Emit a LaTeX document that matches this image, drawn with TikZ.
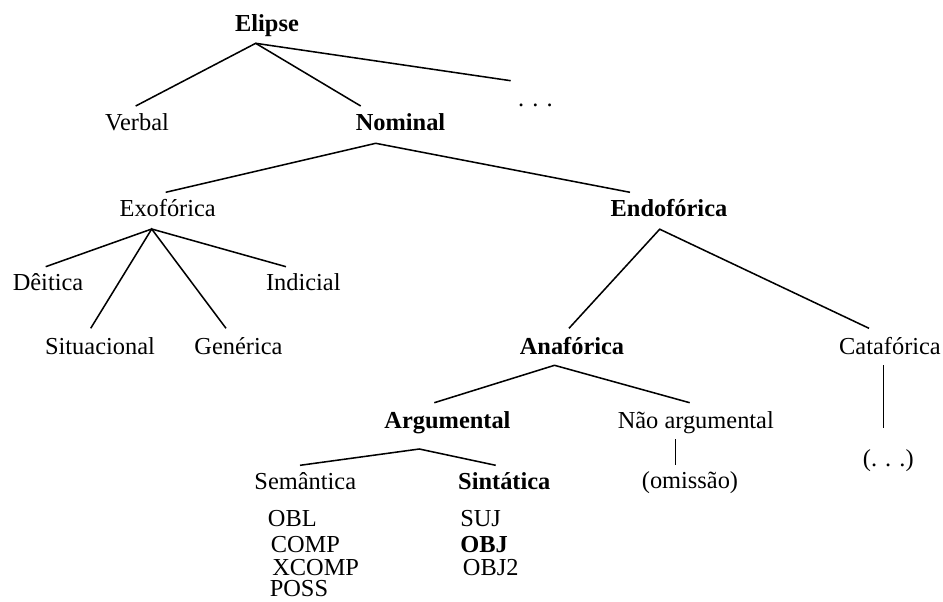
\documentclass[tikz,border=0pt]{standalone}
\usepackage{fontspec}
\setmainfont{Liberation Serif}
\begin{document}
\begin{tikzpicture}[x=0.75pt,y=-0.75pt,
  lbl/.style={inner sep=0pt, anchor=base, font=\fontsize{18.3pt}{22pt}\selectfont},
  hd/.style={lbl, font=\fontsize{18.3pt}{22pt}\selectfont\bfseries},
  lst/.style={lbl, anchor=base west, text height=12.5pt, text depth=0pt},
  branch/.style={line width=1.15pt, line cap=butt}]
\useasboundingbox (0,0) rectangle (943,601);

% category labels
\node[hd]  (elipse)   at (267,31.7)    {Elipse};
\node[lbl] (verbal)   at (137,130)     {Verbal};
\node[hd]  (nominal)  at (400.5,130)   {Nominal};
\node[lbl] (etc)      at (535.5,106)   {. . .};
\node[lbl] (exo)      at (167.7,216.7) {Exofórica};
\node[hd]  (endo)     at (669,216.7)   {Endofórica};
\node[lbl] (deit)     at (48,290.7)    {Dêitica};
\node[lbl] (indic)    at (303.3,290.7) {Indicial};
\node[lbl] (situ)     at (100,354)     {Situacional};
\node[lbl] (gener)    at (238.5,354)   {Genérica};
\node[hd]  (ana)      at (572,354)     {Anafórica};
\node[lbl] (cata)     at (890,354)     {Catafórica};
\node[hd]  (arg)      at (447.5,428.3) {Argumental};
\node[lbl] (naoarg)   at (695.8,428.3) {Não argumental};
\node[lbl] (catadots) at (888.3,466)   {(. . .)};
\node[lbl] (sem)      at (305.3,489.3) {Semântica};
\node[hd]  (sint)     at (504.3,489.3) {Sintática};
\node[lbl] (omis)     at (690,488.3)   {(omissão)};

% semantic functions
\node[lst] (obl)   at (267.7,526.7) {OBL};
\node[lst] (comp)  at (270.5,552.3) {COMP};
\node[lst] (xcomp) at (272,575.3)   {XCOMP};
\node[lst] (poss)  at (269.5,596.6) {POSS};
% syntactic functions
\node[lst] (suj)   at (460,526.7)   {SUJ};
\node[lst, font=\fontsize{18.3pt}{22pt}\selectfont\bfseries] (obj) at (460,552.3) {OBJ};
\node[lst] (obj2)  at (462.7,575.3) {OBJ2};

% branching points under each parent
\coordinate (elipse-j)  at (255.7,43.3);
\coordinate (nominal-j) at (375.7,143.3);
\coordinate (exo-j)     at (151.7,229);
\coordinate (endo-j)    at (659.7,229.2);
\coordinate (ana-j)     at (554.5,365.3);
\coordinate (arg-j)     at (419.3,449);

% upper ends of the branches above each child
\coordinate (verbal-t)   at (135.7,106);
\coordinate (nominal-t)  at (360.7,106);
\coordinate (etc-t)      at (510.7,80.7);
\coordinate (exo-t)      at (165.7,192.3);
\coordinate (endo-t)     at (630,192.3);
\coordinate (deit-t)     at (45.7,266.7);
\coordinate (situ-t)     at (90.7,328.3);
\coordinate (gener-t)    at (226,328.3);
\coordinate (indic-t)    at (286,266.7);
\coordinate (ana-t)      at (569,328.3);
\coordinate (cata-t)     at (869,328.3);
\coordinate (arg-t)      at (434.3,402.7);
\coordinate (naoarg-t)   at (689.7,402.7);
\coordinate (sem-t)      at (300,465.3);
\coordinate (sint-t)     at (495.7,465.3);

% vertical stems
\coordinate (cata-s)     at (883.3,365.3);
\coordinate (catadots-t) at (883.3,428.3);
\coordinate (naoarg-s)   at (675.7,439);
\coordinate (omis-t)     at (675.7,465);

% branches
\draw[branch] (verbal-t) -- (elipse-j) -- (nominal-t);
\draw[branch] (elipse-j) -- (etc-t);
\draw[branch] (exo-t) -- (nominal-j) -- (endo-t);
\draw[branch] (deit-t) -- (exo-j) -- (indic-t);
\draw[branch] (situ-t) -- (exo-j) -- (gener-t);
\draw[branch] (ana-t) -- (endo-j) -- (cata-t);
\draw[branch] (arg-t) -- (ana-j) -- (naoarg-t);
\draw[branch] (sem-t) -- (arg-j) -- (sint-t);
\draw[branch] (cata-s) -- (catadots-t);
\draw[branch] (naoarg-s) -- (omis-t);
\end{tikzpicture}
\end{document}
